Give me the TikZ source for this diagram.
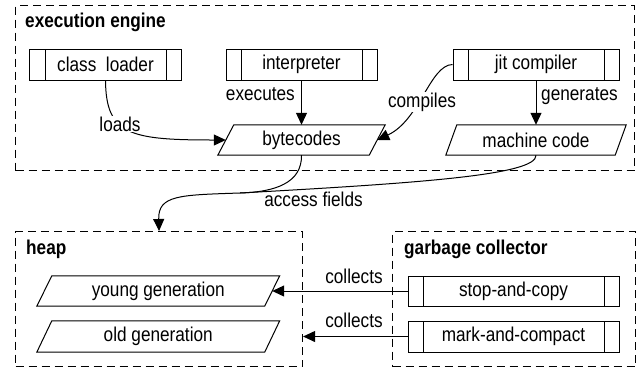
\documentclass[tikz,border=0pt]{standalone}
\usepackage{fontspec}
\setmainfont{Liberation Sans}[FakeStretch=0.86]
\usetikzlibrary{arrows.meta}

% parallelogram outline round a (plain, undrawn) data node
\newcommand\paraframe[2]{%
  \draw[dline] ([xshift=-#2]#1.south west) -- ([xshift=#2]#1.north west)
    -- ([xshift=#2]#1.north east) -- ([xshift=-#2]#1.south east) -- cycle;}

\begin{document}
\begin{tikzpicture}[x=1bp,y=-1bp,
  every node/.style={font=\fontsize{20bp}{24bp}\selectfont, inner sep=0pt},
  dline/.style={line width=1bp, line join=miter},
  group/.style={draw, line width=1.1bp, dash pattern=on 8bp off 5bp, anchor=north west},
  grouptitle/.style={font=\fontsize{20bp}{24bp}\selectfont\bfseries, anchor=base west},
  proc/.style={draw, line width=1bp, minimum height=31bp,
    path picture={\draw[line width=1bp]
      ([xshift=15bp]path picture bounding box.north west) -- ([xshift=15bp]path picture bounding box.south west)
      ([xshift=-15bp]path picture bounding box.north east) -- ([xshift=-15bp]path picture bounding box.south east);}},
  datanode/.style={minimum height=30bp},
  conn/.style={line width=1bp},
  arr/.style={conn, -{Triangle[length=12bp,width=11bp]}},
  lbl/.style={anchor=base}
]
\useasboundingbox (0,0) rectangle (640,381);

% group frames
\node[group, minimum width=619bp, minimum height=165bp] (engine) at (15,5) {};
\node[group, minimum width=287bp, minimum height=135bp] (heap) at (15,231) {};
\node[group, minimum width=243bp, minimum height=135bp] (gc) at (392,231) {};
\node[grouptitle] (tengine) at (25,27.5) {execution engine};
\node[grouptitle] (theap) at (26,254.5) {heap};
\node[grouptitle] (tgc) at (404,254.5) {garbage collector};

% execution engine parts
\node[proc, minimum width=151bp] (loader) at (105.5,64.5) {class\ \ loader};
\node[proc, minimum width=151bp] (interp) at (301.5,64.5) {interpreter};
\node[proc, minimum width=166bp] (jit) at (536,64.5) {jit compiler};
\node[datanode, minimum width=151bp] (bc) at (301.5,140) {bytecodes};
\node[datanode, minimum width=169bp] (mc) at (536,140) {machine code};
\paraframe{bc}{8bp}
\paraframe{mc}{5.5bp}

% heap parts
\node[datanode, minimum width=227.5bp] (young) at (158.25,291) {young generation};
\node[datanode, minimum width=227.5bp, minimum height=31bp] (old) at (158.25,336.5) {old generation};
\paraframe{young}{7.5bp}
\paraframe{old}{7.5bp}

% collectors
\node[proc, minimum width=211bp, minimum height=30bp] (copy) at (513.5,291) {stop-and-copy};
\node[proc, minimum width=211bp] (compact) at (513.5,336.5) {mark-and-compact};

% connectors
\draw[arr] (loader.south) .. controls (106,135) and (130,140) .. (bc.west);
\draw[arr] (interp.south) -- (bc.north);
\draw[arr] (jit.west) .. controls (430,65) and (420,120) .. (bc.east);
\draw[arr] (jit.south) -- (mc.north);
\coordinate (merge) at (240,193);
\draw[conn] (bc.south) .. controls (302,183) and (275,192) .. (merge);
\draw[arr] (mc.south) .. controls (537,175) and (420,183) .. (merge)
  .. controls (180,195) and (158,195) .. (heap.north);
\draw[arr] (copy.west) -- (young.east);
\draw[arr] (compact.west) -- (compact.west -| heap.east);

% connector labels
\node[lbl, fill=white, inner sep=1bp] (lloads) at (120,131) {loads};
\node[lbl, anchor=base east] (lexec) at (295,100) {executes};
\node[lbl, fill=white, inner sep=1bp] (lcomp) at (422,107) {compiles};
\node[lbl, anchor=base west] (lgen) at (541,100) {generates};
\node[lbl] (lacc) at (313.5,206) {access fields};
\node[lbl] (lcol1) at (354,283) {collects};
\node[lbl] (lcol2) at (354,327) {collects};
\end{tikzpicture}
\end{document}
